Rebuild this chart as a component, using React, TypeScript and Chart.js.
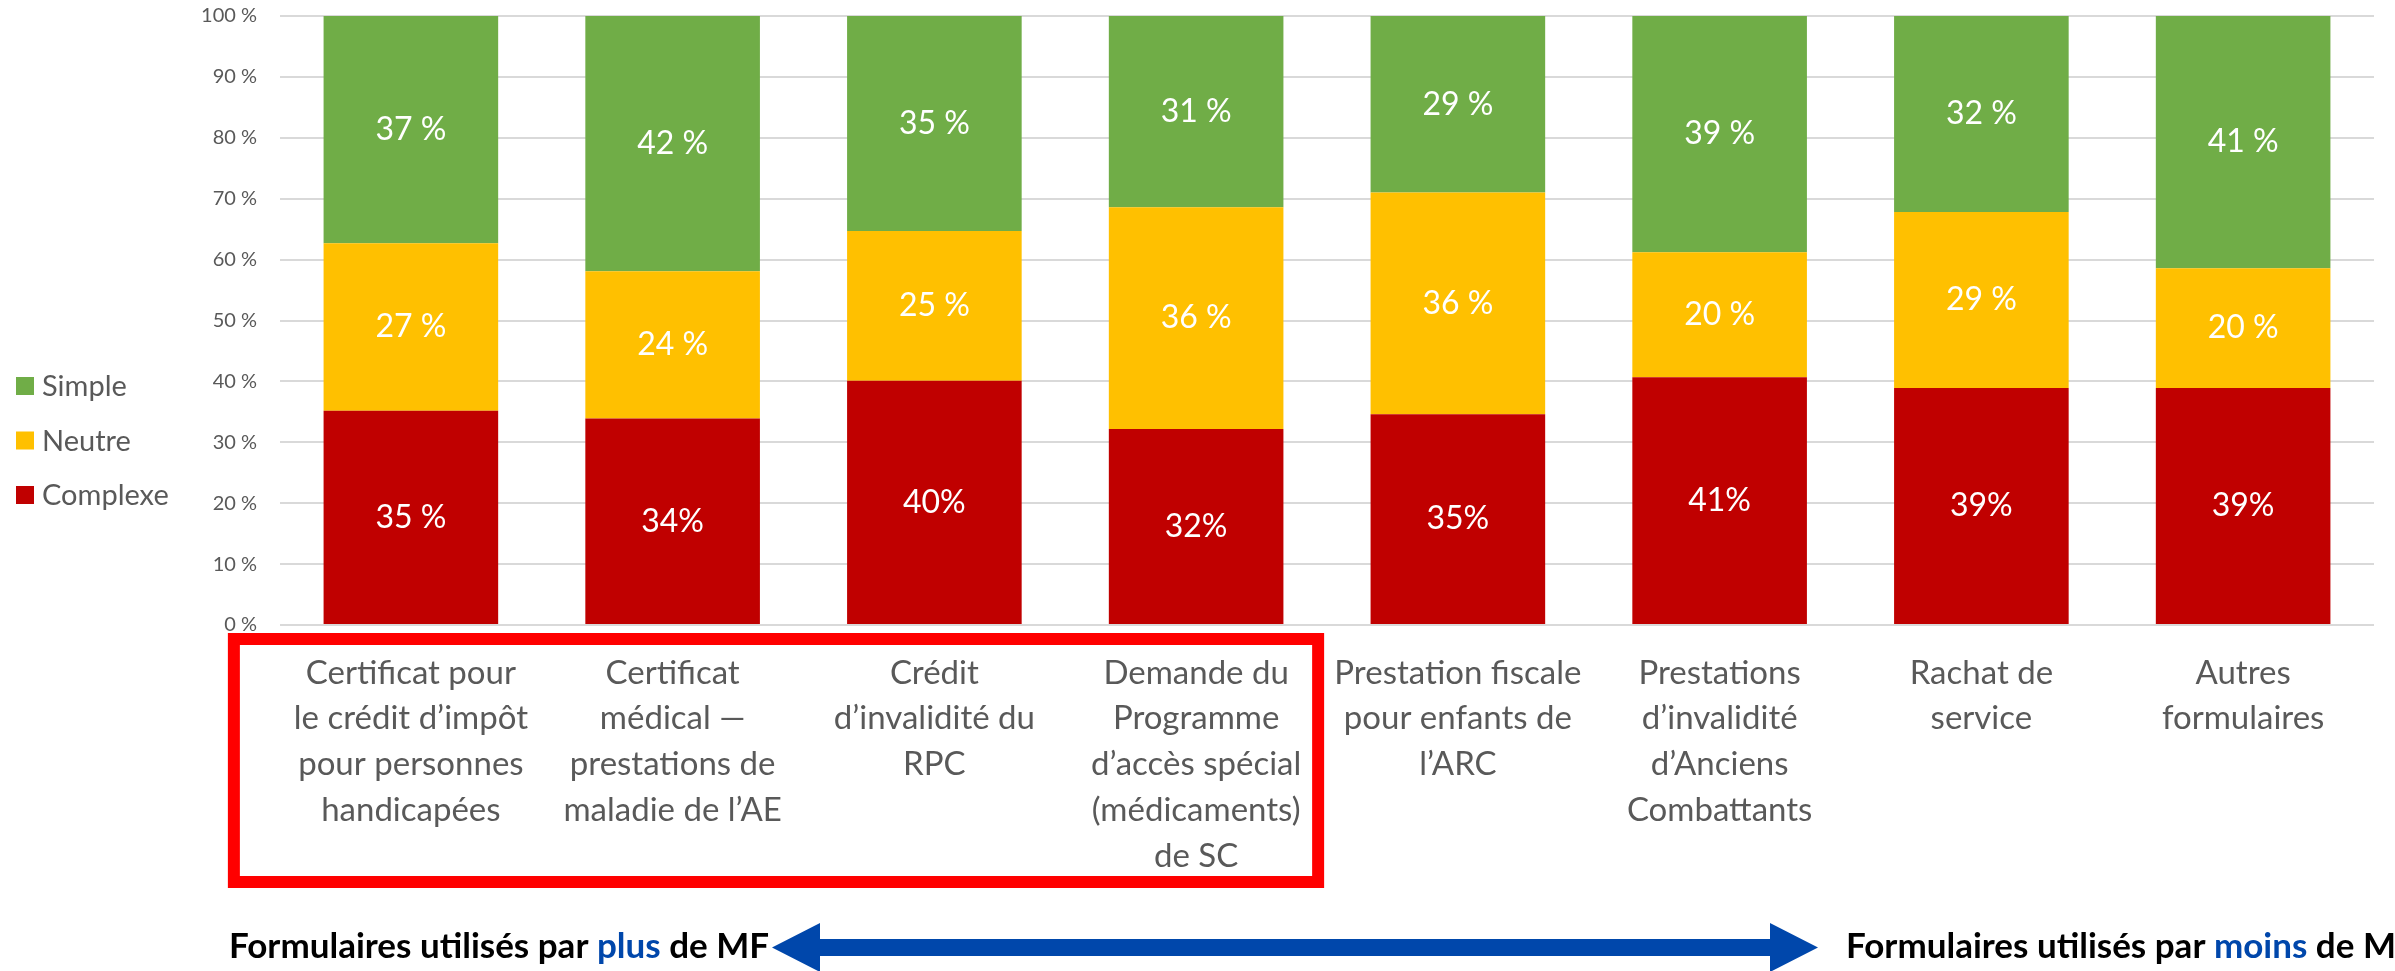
import React, { useEffect, useRef } from 'react';
import { Chart, registerables } from 'chart.js';

Chart.register(...registerables);

const categories: string[][] = [
  ['Certificat pour', 'le crédit d’impôt', 'pour personnes', 'handicapées'],
  ['Certificat', 'médical —', 'prestations de', 'maladie de l’AE'],
  ['Crédit', 'd’invalidité du', 'RPC'],
  ['Demande du', 'Programme', 'd’accès spécial', '(médicaments)', 'de SC'],
  ['Prestation fiscale', 'pour enfants de', 'l’ARC'],
  ['Prestations', 'd’invalidité', 'd’Anciens', 'Combattants'],
  ['Rachat de', 'service'],
  ['Autres', 'formulaires'],
];

const complexe = [35.2, 33.9, 40.1, 32.2, 34.6, 40.7, 38.9, 38.9];
const neutre = [27.5, 24.2, 24.6, 36.4, 36.4, 20.5, 28.9, 19.7];
const simple = [37.3, 41.9, 35.3, 31.4, 29.0, 38.8, 32.2, 41.4];

const complexeLabels = ['35 %', '34%', '40%', '32%', '35%', '41%', '39%', '39%'];
const neutreLabels = ['27 %', '24 %', '25 %', '36 %', '36 %', '20 %', '29 %', '20 %'];
const simpleLabels = ['37 %', '42 %', '35 %', '31 %', '29 %', '39 %', '32 %', '41 %'];

const yMin = 0;
const yMax = 100;
const yStep = 10;

const leftCaption = ['Formulaires utilisés par ', 'plus', ' de MF'];
const rightCaption = ['Formulaires utilisés par ', 'moins', ' de MF'];

const FONT = 'Lato';
const GRAY = '#595959';
const BLUE = '#0047AB';

const dataLabelPlugin = {
  id: 'segLabels',
  afterDatasetsDraw(chart: any) {
    const ctx = chart.ctx;
    ctx.save();
    ctx.font = `32px ${FONT}`;
    ctx.fillStyle = '#ffffff';
    ctx.textAlign = 'center';
    ctx.textBaseline = 'middle';
    chart.data.datasets.forEach((ds: any, di: number) => {
      const meta = chart.getDatasetMeta(di);
      meta.data.forEach((el: any, i: number) => {
        const y = (el.y + el.base) / 2;
        ctx.fillText(ds.segLabels[i], el.x, y);
      });
    });
    ctx.restore();
  },
};

const legendPlugin = {
  id: 'sideLegend',
  afterDraw(chart: any) {
    const ctx = chart.ctx;
    ctx.save();
    const items = [...chart.data.datasets].reverse();
    ctx.font = `29px ${FONT}`;
    ctx.textBaseline = 'middle';
    ctx.textAlign = 'left';
    items.forEach((ds: any, i: number) => {
      const cy = 386 + i * 54.5;
      ctx.fillStyle = ds.backgroundColor;
      ctx.fillRect(16, cy - 9, 18, 18);
      ctx.fillStyle = GRAY;
      ctx.fillText(ds.label, 42, cy + 1);
    });
    ctx.restore();
  },
};

const bottomPlugin = {
  id: 'bottomDecor',
  afterDraw(chart: any) {
    const ctx = chart.ctx;
    const x = chart.scales.x;
    ctx.save();
    const left = x.getPixelForValue(0) - 177;
    const right = x.getPixelForValue(3) + 122;
    ctx.strokeStyle = '#FF0000';
    ctx.lineWidth = 12;
    ctx.strokeRect(left, 639, right - left, 243);

    const drawCaption = (parts: string[], sx: number, y: number) => {
      ctx.font = `bold 35px ${FONT}`;
      ctx.textBaseline = 'alphabetic';
      ctx.textAlign = 'left';
      let cx = sx;
      parts.forEach((p, i) => {
        ctx.fillStyle = i === 1 ? BLUE : '#000000';
        ctx.fillText(p, cx, y);
        cx += ctx.measureText(p).width;
      });
    };
    drawCaption(leftCaption, 229, 958);
    drawCaption(rightCaption, 1846, 958);

    const cy = 947.5;
    const tipL = 772;
    const tipR = 1818;
    const head = 48;
    const half = 24.5;
    const shaft = 8.5;
    ctx.fillStyle = BLUE;
    ctx.beginPath();
    ctx.moveTo(tipL, cy);
    ctx.lineTo(tipL + head, cy - half);
    ctx.lineTo(tipL + head, cy - shaft);
    ctx.lineTo(tipR - head, cy - shaft);
    ctx.lineTo(tipR - head, cy - half);
    ctx.lineTo(tipR, cy);
    ctx.lineTo(tipR - head, cy + half);
    ctx.lineTo(tipR - head, cy + shaft);
    ctx.lineTo(tipL + head, cy + shaft);
    ctx.lineTo(tipL + head, cy + half);
    ctx.closePath();
    ctx.fill();
    ctx.restore();
  },
};

export default function App() {
  const ref = useRef<HTMLCanvasElement>(null);
  useEffect(() => {
    document.body.style.margin = '0';
    const chart = new Chart(ref.current as HTMLCanvasElement, {
      type: 'bar',
      data: {
        labels: categories,
        datasets: [
          { label: 'Complexe', data: complexe, backgroundColor: '#C00000', segLabels: complexeLabels } as any,
          { label: 'Neutre', data: neutre, backgroundColor: '#FFC000', segLabels: neutreLabels } as any,
          { label: 'Simple', data: simple, backgroundColor: '#70AD47', segLabels: simpleLabels } as any,
        ],
      },
      options: {
        responsive: false,
        animation: false,
        layout: { padding: { top: 0, right: 21, left: 0, bottom: 0 } },
        datasets: { bar: { barPercentage: 0.667, categoryPercentage: 1, borderWidth: 0 } },
        plugins: { legend: { display: false }, tooltip: { enabled: false } },
        scales: {
          x: {
            stacked: true,
            grid: { display: false, drawTicks: false },
            border: { display: false },
            ticks: {
              autoSkip: false,
              maxRotation: 0,
              minRotation: 0,
              padding: 25,
              color: GRAY,
              font: { family: FONT, size: 33, lineHeight: 1.388 },
            },
            afterFit: (s: any) => { s.height = 346; },
          },
          y: {
            stacked: true,
            min: yMin,
            max: yMax,
            grid: { color: '#D9D9D9', lineWidth: 2, drawTicks: false },
            border: { display: false },
            ticks: {
              stepSize: yStep,
              padding: 23,
              color: GRAY,
              font: { family: FONT, size: 20 },
              callback: (v: any) => `${v} %`,
            },
            afterFit: (s: any) => { s.width = 280; s.paddingTop = 16; s.paddingBottom = 0; },
          },
        },
      },
      plugins: [dataLabelPlugin, legendPlugin, bottomPlugin],
    });
    return () => chart.destroy();
  }, []);
  return (
    <div style={{ width: 2395, height: 971, overflow: 'hidden' }}>
      <canvas ref={ref} width={2395} height={971} style={{ display: 'block' }} />
    </div>
  );
}
